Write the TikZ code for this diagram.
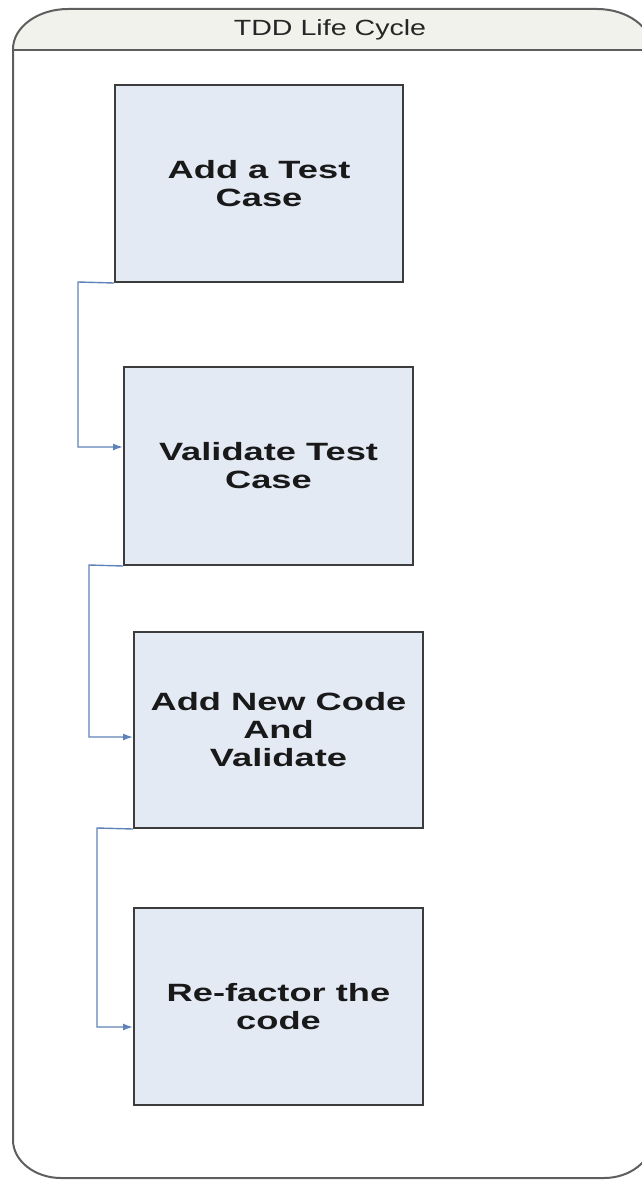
\documentclass[tikz,border=0pt]{standalone}
\usepackage{fontspec}
\setmainfont{Liberation Sans}
\newfontfamily\boxfont[FakeStretch=1.45]{Liberation Sans}
\newfontfamily\titlefont[FakeStretch=1.3]{Liberation Sans}
\usetikzlibrary{arrows.meta}
\definecolor{boxfill}{HTML}{E4EAF4}
\definecolor{boxline}{HTML}{3C3C3C}
\definecolor{frameline}{HTML}{5E5E5E}
\definecolor{headfill}{HTML}{F2F2EC}
\definecolor{connblue}{HTML}{5F83B8}
\tikzset{
  stepbox/.style={draw=boxline, line width=2pt, fill=boxfill, align=center,
    inner sep=0pt, font=\boxfont\bfseries\fontsize{25}{28}\selectfont, text=black!90},
  conn/.style={draw=connblue, line width=1.4pt, -{Latex[length=10pt,width=7pt]}},
  frame/.style={draw=frameline, line width=2pt}
}
\begin{document}
\begin{tikzpicture}[x=1pt,y=-1pt]
\useasboundingbox (0,0) rectangle (642,1180);
\clip (0,0) rectangle (642,1180);
% frame header fill
\fill[headfill] (13,49) .. controls (13,27) and (38,9) .. (68,9) -- (597,9)
  .. controls (627,9) and (652,27) .. (652,49) -- cycle;
% outer frame
\draw[frame] (13,49) .. controls (13,27) and (38,9) .. (68,9) -- (597,9)
  .. controls (627,9) and (652,27) .. (652,49) -- (652,1140)
  .. controls (652,1161) and (630,1178) .. (604,1178) -- (61,1178)
  .. controls (35,1178) and (13,1161) .. (13,1140) -- cycle;
\draw[frame] (13,50) -- (652,50);
\node[font=\titlefont\fontsize{22}{24}\selectfont, text=black!85] (title) at (330,30) {TDD Life Cycle};
% boxes
\node[stepbox, minimum width=288pt, minimum height=197pt] (b1) at (259,183.5) {Add a Test\\Case};
\node[stepbox, minimum width=289pt, minimum height=198pt] (b2) at (268.5,466) {Validate Test\\Case};
\node[stepbox, minimum width=289pt, minimum height=196pt] (b3) at (278.5,730) {Add New Code\\And\\Validate};
\node[stepbox, minimum width=289pt, minimum height=197pt] (b4) at (278.5,1006.5) {Re-factor the\\code};
% connectors
\coordinate (k1) at (78,282);
\coordinate (k2) at (89,565);
\coordinate (k3) at (97,828);
\draw[conn] (b1.south west) -- (k1) |- ([yshift=19pt]b2.west);
\draw[conn] (b2.south west) -- (k2) |- ([yshift=-7pt]b3.west);
\draw[conn] (b3.south west) -- (k3) |- ([yshift=-20.5pt]b4.west);
\end{tikzpicture}
\end{document}
